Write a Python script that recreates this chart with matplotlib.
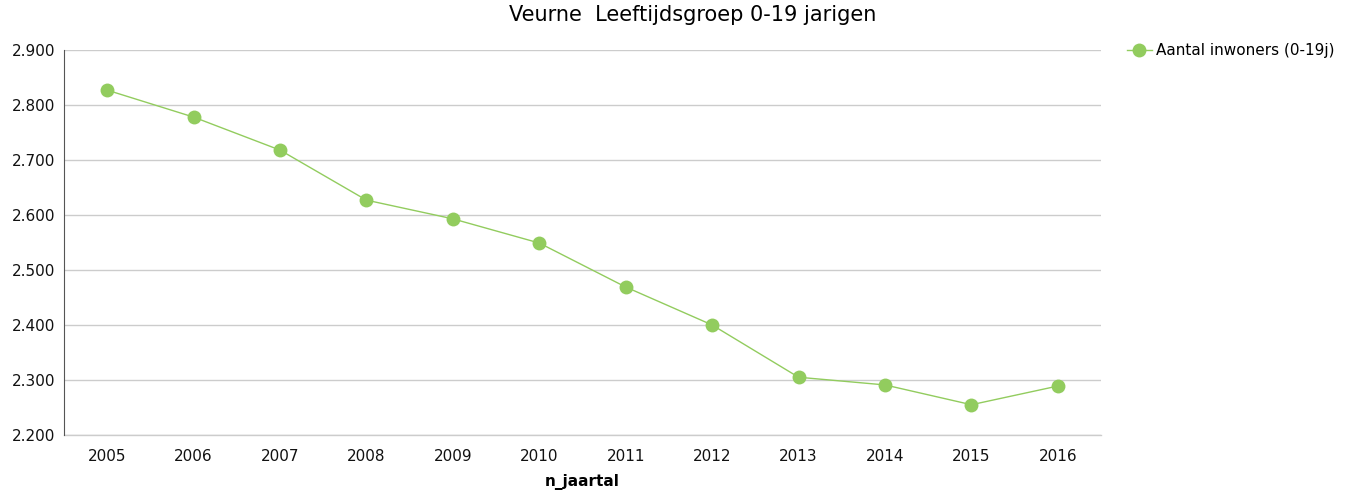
import matplotlib
matplotlib.use("Agg")
from matplotlib import pyplot as plt
from matplotlib.ticker import FuncFormatter

# Data
years = ["2005", "2006", "2007", "2008", "2009", "2010",
         "2011", "2012", "2013", "2014", "2015", "2016"]
inwoners = [2827, 2778, 2718, 2627, 2593, 2549,
            2469, 2400, 2305, 2291, 2255, 2289]

green = "#92CC5E"

fig = plt.figure(figsize=(13.52, 4.92), dpi=100)
ax = fig.add_axes([0.0473, 0.1159, 0.7671, 0.7825])

x = list(range(len(years)))
ax.plot(x, inwoners, color=green, linewidth=1, marker="o", markersize=10,
        markeredgewidth=0, label="Aantal inwoners (0-19j)", zorder=3)

ax.set_xlim(-0.5, len(years) - 0.5)
ax.set_ylim(2200, 2900)
ax.set_yticks(range(2200, 2901, 100))
ax.yaxis.set_major_formatter(FuncFormatter(lambda v, p: f"{v / 1000:.3f}"))
ax.set_xticks(x)
ax.set_xticklabels(years)

ax.grid(axis="y", color="#CCCCCC", linewidth=1)
ax.axhline(2200, color="#CCCCCC", linewidth=1, clip_on=False, zorder=1)
ax.set_axisbelow(True)
for s in ["top", "right", "bottom"]:
    ax.spines[s].set_visible(False)
ax.spines["left"].set_color("#555555")
ax.tick_params(axis="both", length=0, labelsize=11, colors="#111111")
ax.tick_params(axis="x", pad=10)
ax.tick_params(axis="y", pad=6)

ax.set_xlabel("n_jaartal", fontsize=11, fontweight="bold", labelpad=7)
fig.suptitle("Veurne  Leeftijdsgroep 0-19 jarigen", x=0.512, y=0.99, fontsize=15)

ax.legend(loc="upper left", bbox_to_anchor=(1.012, 1.053), frameon=False,
          fontsize=11, handlelength=1.6, handletextpad=0.3)

fig.savefig("out.png", dpi=100)
